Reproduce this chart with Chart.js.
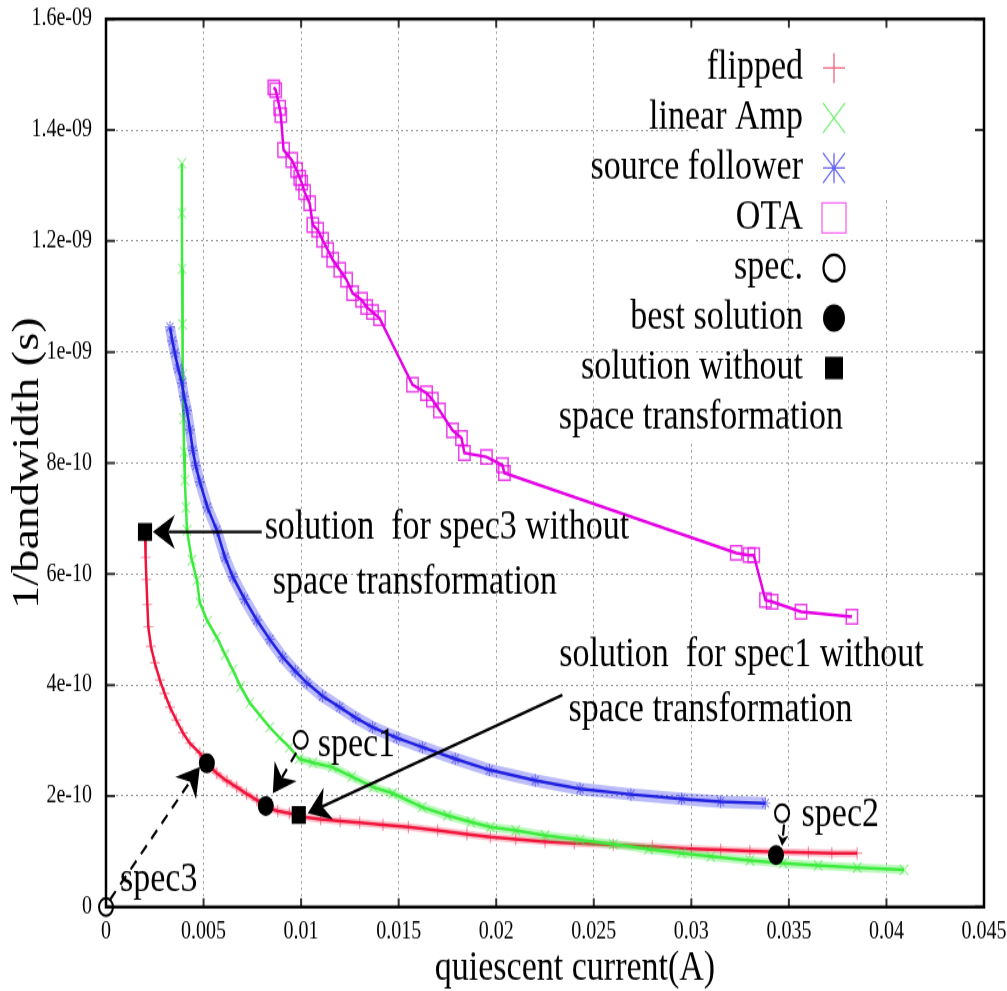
<!DOCTYPE html>
<html>
<head>
<meta charset="utf-8">
<script src="https://cdn.jsdelivr.net/npm/chart.js@4.4.1/dist/chart.umd.min.js"></script>
<style>
  html, body { margin: 0; padding: 0; background: #fff; overflow: hidden; }
</style>
</head>
<body>
<!-- the original figure is squeezed: draw at 1007x793 and let css stretch it to 991 -->
<canvas id="myChart" width="1007" height="793" style="display:block;width:1007px;height:991px"></canvas>
<script>
const xTicks = [0, 0.005, 0.01, 0.015, 0.02, 0.025, 0.03, 0.035, 0.04, 0.045];
const xTickLabels = ['0', '0.005', '0.01', '0.015', '0.02', '0.025', '0.03', '0.035', '0.04', '0.045'];
const yTicks = [0, 2e-10, 4e-10, 6e-10, 8e-10, 1e-9, 1.2e-9, 1.4e-9, 1.6e-9];
const yTickLabels = ['0', '2e-10', '4e-10', '6e-10', '8e-10', '1e-09', '1.2e-09', '1.4e-09', '1.6e-09'];

// [quiescent current (A), 1/bandwidth (s)]
const flipped = [
  [0.00200, 6.74e-10], [0.00203, 6.30e-10], [0.00207, 5.90e-10], [0.00212, 5.45e-10],
  [0.00217, 5.05e-10], [0.00230, 4.70e-10], [0.00250, 4.40e-10], [0.00276, 4.09e-10],
  [0.00300, 3.85e-10], [0.00328, 3.60e-10], [0.00360, 3.37e-10], [0.00394, 3.14e-10],
  [0.00430, 2.95e-10], [0.00481, 2.77e-10], [0.00517, 2.59e-10], [0.00568, 2.41e-10],
  [0.00620, 2.27e-10], [0.00670, 2.16e-10], [0.00720, 2.04e-10], [0.00773, 1.93e-10],
  [0.00824, 1.80e-10], [0.00880, 1.73e-10], [0.00940, 1.69e-10], [0.01010, 1.62e-10],
  [0.01100, 1.58e-10], [0.01200, 1.55e-10], [0.01300, 1.52e-10], [0.01420, 1.48e-10],
  [0.01550, 1.44e-10], [0.01700, 1.38e-10], [0.01850, 1.31e-10], [0.01970, 1.26e-10],
  [0.02100, 1.22e-10], [0.02250, 1.18e-10], [0.02400, 1.15e-10], [0.02600, 1.12e-10],
  [0.02800, 1.09e-10], [0.03000, 1.05e-10], [0.03150, 1.03e-10], [0.03300, 1.01e-10],
  [0.03450, 0.99e-10], [0.03600, 0.98e-10], [0.03720, 0.97e-10], [0.03850, 0.97e-10]
];
const linearAmp = [
  [0.00389, 1.340e-9], [0.00389, 1.250e-9], [0.00390, 1.150e-9], [0.00392, 1.050e-9],
  [0.00394, 9.60e-10], [0.00397, 8.80e-10], [0.00400, 8.20e-10], [0.00404, 7.69e-10],
  [0.00410, 7.20e-10], [0.00415, 6.79e-10], [0.00440, 6.25e-10], [0.00466, 5.89e-10],
  [0.00481, 5.48e-10], [0.00520, 5.15e-10], [0.00568, 4.86e-10], [0.00610, 4.55e-10],
  [0.00650, 4.27e-10], [0.00690, 3.97e-10], [0.00737, 3.68e-10], [0.00790, 3.45e-10],
  [0.00839, 3.24e-10], [0.00890, 3.05e-10], [0.00940, 2.88e-10], [0.00990, 2.67e-10],
  [0.01060, 2.60e-10], [0.01160, 2.52e-10], [0.01260, 2.35e-10], [0.01370, 2.16e-10],
  [0.01469, 2.05e-10], [0.01620, 1.80e-10], [0.01750, 1.65e-10], [0.01870, 1.53e-10],
  [0.01970, 1.44e-10], [0.02100, 1.38e-10], [0.02250, 1.29e-10], [0.02430, 1.21e-10],
  [0.02600, 1.13e-10], [0.02780, 1.04e-10], [0.02950, 0.97e-10], [0.03100, 0.91e-10],
  [0.03300, 0.84e-10], [0.03470, 0.79e-10], [0.03650, 0.75e-10], [0.03850, 0.71e-10],
  [0.04090, 0.67e-10]
];
const sourceFollower = [
  [0.00328, 1.045e-9], [0.00340, 1.020e-9], [0.00353, 9.98e-10], [0.00370, 9.70e-10],
  [0.00389, 9.44e-10], [0.00400, 9.20e-10], [0.00415, 8.95e-10], [0.00430, 8.60e-10],
  [0.00445, 8.23e-10], [0.00460, 7.95e-10], [0.00481, 7.66e-10], [0.00520, 7.20e-10],
  [0.00568, 6.79e-10], [0.00610, 6.30e-10], [0.00650, 5.95e-10], [0.00710, 5.55e-10],
  [0.00773, 5.17e-10], [0.00840, 4.82e-10], [0.00906, 4.50e-10], [0.00970, 4.25e-10],
  [0.01029, 4.04e-10], [0.01110, 3.80e-10], [0.01198, 3.60e-10], [0.01280, 3.41e-10],
  [0.01366, 3.24e-10], [0.01490, 3.05e-10], [0.01622, 2.88e-10], [0.01790, 2.67e-10],
  [0.01965, 2.47e-10], [0.02200, 2.28e-10], [0.02430, 2.13e-10], [0.02690, 2.03e-10],
  [0.02950, 1.95e-10], [0.03150, 1.90e-10], [0.03380, 1.87e-10]
];
const ota = [
  [0.00860, 1.477e-9], [0.00870, 1.472e-9], [0.00890, 1.440e-9], [0.00896, 1.427e-9],
  [0.00910, 1.364e-9], [0.00952, 1.346e-9], [0.00977, 1.328e-9], [0.00993, 1.314e-9],
  [0.01003, 1.305e-9], [0.01018, 1.288e-9], [0.01044, 1.268e-9], [0.01060, 1.229e-9],
  [0.01085, 1.220e-9], [0.01110, 1.202e-9], [0.01136, 1.184e-9], [0.01162, 1.166e-9],
  [0.01198, 1.148e-9], [0.01233, 1.130e-9], [0.01264, 1.106e-9], [0.01310, 1.094e-9],
  [0.01336, 1.081e-9], [0.01366, 1.072e-9], [0.01402, 1.061e-9], [0.01571, 9.41e-10],
  [0.01643, 9.26e-10], [0.01673, 9.14e-10], [0.01709, 8.95e-10], [0.01776, 8.59e-10],
  [0.01822, 8.45e-10], [0.01837, 8.18e-10], [0.01950, 8.11e-10], [0.02032, 7.96e-10],
  [0.02042, 7.82e-10], [0.03230, 6.38e-10], [0.03296, 6.34e-10], [0.03320, 6.34e-10],
  [0.03380, 5.53e-10], [0.03414, 5.50e-10], [0.03562, 5.32e-10], [0.03823, 5.23e-10]
];
const specPoints = [[0, 0], [0.00998, 3.01e-10], [0.03465, 1.69e-10]];
const bestSolutions = [[0.00517, 2.59e-10], [0.00819, 1.82e-10], [0.03434, 0.937e-10]];
const noTransformSolutions = [[0.00200, 6.76e-10], [0.00988, 1.66e-10]];

const RED = '#f0143c', GREEN = '#3cec3c', BLUE = '#2020e0', MAGENTA = '#e400e4';
const FONT = '"Liberation Serif", "Times New Roman", serif';
const SQUEEZE = 991 / 793;

const pts = arr => arr.map(([x, y]) => ({x, y}));

// labels and arrows, anchored in data coordinates like gnuplot does
const notes = [
  {text: 'solution  for spec3 without', at: [0.00813, 6.83e-10]},
  {text: 'space transformation', at: [0.00855, 5.84e-10]},
  {text: 'solution  for spec1 without', at: [0.02323, 4.55e-10]},
  {text: 'space transformation', at: [0.02370, 3.56e-10]},
  {text: 'spec1', at: [0.01085, 2.92e-10]},
  {text: 'spec2', at: [0.03565, 1.66e-10]},
  {text: 'spec3', at: [0.00072, 0.49e-10]}
];
const arrows = [
  {from: [0.00798, 6.76e-10], to: [0.00240, 6.76e-10], dash: false, head: 22},
  {from: [0.02339, 3.82e-10], to: [0.01034, 1.69e-10], dash: false, head: 22},
  {from: [0.00020, 0.13e-10], to: [0.00481, 2.52e-10], dash: true, head: 22},
  {from: [0.00975, 2.78e-10], to: [0.00855, 2.05e-10], dash: true, head: 22},
  {from: [0.03475, 1.49e-10], to: [0.03465, 1.10e-10], dash: true, head: 9}
];
const legendRows = [
  {label: 'flipped', mark: 'plus', color: 'rgba(240,60,90,0.8)'},
  {label: 'linear Amp', mark: 'x', color: 'rgba(80,235,80,0.8)'},
  {label: 'source follower', mark: 'star', color: 'rgba(60,60,235,0.8)'},
  {label: 'OTA', mark: 'box', color: 'rgba(240,60,240,0.8)'},
  {label: 'spec.', mark: 'circle', color: '#000'},
  {label: 'best solution', mark: 'dot', color: '#000'},
  {label: 'solution without', mark: 'square', color: '#000'},
  {label: 'space transformation', mark: null, color: '#000'}
];

function arrowHead(ctx, tx, ty, ux, uy, len) {
  const half = len * 0.62, nx = -uy, ny = ux;
  ctx.beginPath();
  ctx.moveTo(tx, ty);
  ctx.lineTo(tx - ux * len + nx * half, ty - uy * len + ny * half);
  ctx.lineTo(tx - ux * len * 0.7, ty - uy * len * 0.7);
  ctx.lineTo(tx - ux * len - nx * half, ty - uy * len - ny * half);
  ctx.closePath();
  ctx.fill();
}

function drawMark(ctx, mark, x, y, color) {
  ctx.save();
  ctx.strokeStyle = color;
  ctx.fillStyle = color;
  ctx.lineWidth = 1.3;
  ctx.beginPath();
  if (mark === 'plus' || mark === 'star') {
    ctx.moveTo(x - 11, y); ctx.lineTo(x + 11, y);
    ctx.moveTo(x, y - 12); ctx.lineTo(x, y + 12);
  }
  if (mark === 'x' || mark === 'star') {
    ctx.moveTo(x - 11, y - 12); ctx.lineTo(x + 11, y + 12);
    ctx.moveTo(x + 11, y - 12); ctx.lineTo(x - 11, y + 12);
  }
  if (mark === 'box') ctx.rect(x - 12, y - 12, 24, 24);
  ctx.stroke();
  if (mark === 'circle') {
    ctx.lineWidth = 2.2;
    ctx.beginPath(); ctx.arc(x, y, 10.5, 0, Math.PI * 2); ctx.stroke();
  }
  if (mark === 'dot') {
    ctx.beginPath(); ctx.arc(x, y, 11, 0, Math.PI * 2); ctx.fill();
  }
  if (mark === 'square') ctx.fillRect(x - 9, y - 9, 18, 18);
  ctx.restore();
}

const decorations = {
  id: 'decorations',
  beforeDatasetsDraw(chart) {
    // gnuplot leaves the grid out behind part of the key
    const {ctx, chartArea: a, scales: {x}} = chart;
    const y0 = a.top + 2;
    ctx.save();
    ctx.fillStyle = '#fff';
    ctx.fillRect(700, y0, a.right - 702, 188 / SQUEEZE - y0);
    const strip = (v, bottom) => {
      const px = x.getPixelForValue(v);
      ctx.fillRect(px - 3, y0, 6, bottom / SQUEEZE - y0);
    };
    strip(0.03, 440);
    strip(0.035, 227);
    strip(0.04, 198);
    ctx.restore();
  },
  afterDraw(chart) {
    const {ctx, chartArea: a, scales: {x, y}} = chart;
    ctx.save();

    // inward tick marks on all four sides
    ctx.strokeStyle = '#333';
    ctx.lineWidth = 2;
    ctx.beginPath();
    yTicks.forEach(v => {
      const py = y.getPixelForValue(v);
      ctx.moveTo(a.left, py); ctx.lineTo(a.left + 9, py);
      ctx.moveTo(a.right, py); ctx.lineTo(a.right - 9, py);
    });
    xTicks.forEach(v => {
      const px = x.getPixelForValue(v);
      ctx.moveTo(px, a.bottom); ctx.lineTo(px, a.bottom - 7);
      ctx.moveTo(px, a.top); ctx.lineTo(px, a.top + 7);
    });
    ctx.stroke();

    // plot border
    ctx.strokeStyle = '#000';
    ctx.lineWidth = 2.5;
    ctx.strokeRect(a.left, a.top, a.right - a.left, a.bottom - a.top);

    // arrows
    ctx.fillStyle = '#000';
    ctx.strokeStyle = '#000';
    arrows.forEach(ar => {
      const x0 = x.getPixelForValue(ar.from[0]), y0 = y.getPixelForValue(ar.from[1]);
      const x1 = x.getPixelForValue(ar.to[0]), y1 = y.getPixelForValue(ar.to[1]);
      const d = Math.hypot(x1 - x0, y1 - y0), ux = (x1 - x0) / d, uy = (y1 - y0) / d;
      ctx.lineWidth = 2.2;
      ctx.setLineDash(ar.dash ? [9, 7] : []);
      ctx.beginPath();
      ctx.moveTo(x0, y0);
      ctx.lineTo(x1 - ux * ar.head * 0.7, y1 - uy * ar.head * 0.7);
      ctx.stroke();
      ctx.setLineDash([]);
      arrowHead(ctx, x1, y1, ux, uy, ar.head);
    });

    // text labels
    ctx.font = '34px ' + FONT;
    ctx.textBaseline = 'middle';
    ctx.textAlign = 'left';
    notes.forEach(n => {
      ctx.fillText(n.text, x.getPixelForValue(n.at[0]), y.getPixelForValue(n.at[1]));
    });

    // key, top right
    ctx.textAlign = 'right';
    legendRows.forEach((row, i) => {
      const ly = (68 + i * 50) / SQUEEZE;
      const tx = row.mark ? 803 : 843;
      ctx.fillStyle = '#000';
      ctx.fillText(row.label, tx, ly);
      if (row.mark) drawMark(ctx, row.mark, 834, ly, row.color);
    });

    // x axis title
    ctx.textAlign = 'center';
    ctx.fillStyle = '#000';
    ctx.fillText('quiescent current(A)', 575, 775);
    ctx.restore();
  }
};

const canvas = document.getElementById('myChart');
const myChart = new Chart(canvas.getContext('2d'), {
  type: 'scatter',
  data: {
    datasets: [
      {
        label: 'flipped band', data: pts(flipped.filter(p => p[0] > 0.0045)),
        showLine: true, order: 10,
        borderColor: 'rgba(245,60,90,0.3)', borderWidth: 6, pointRadius: 0
      },
      {
        label: 'flipped', data: pts(flipped), showLine: true, order: 9,
        borderColor: RED, borderWidth: 2.5,
        pointStyle: 'cross', pointRadius: 5, pointBorderWidth: 1.2,
        pointBorderColor: 'rgba(240,20,60,0.45)', pointBackgroundColor: 'transparent'
      },
      {
        label: 'linear Amp band', data: pts(linearAmp.filter(p => p[0] > 0.0098)),
        showLine: true, order: 8,
        borderColor: 'rgba(70,235,70,0.35)', borderWidth: 7, pointRadius: 0
      },
      {
        label: 'linear Amp', data: pts(linearAmp), showLine: true, order: 7,
        borderColor: GREEN, borderWidth: 2.5,
        pointStyle: 'crossRot', pointRadius: 6, pointBorderWidth: 1.2,
        pointBorderColor: 'rgba(60,230,60,0.5)', pointBackgroundColor: 'transparent'
      },
      {
        label: 'source follower band', data: pts(sourceFollower), showLine: true, order: 6,
        borderColor: 'rgba(60,60,240,0.35)', borderWidth: 10, pointRadius: 0
      },
      {
        label: 'source follower', data: pts(sourceFollower), showLine: true, order: 5,
        borderColor: BLUE, borderWidth: 2.5,
        pointStyle: 'star', pointRadius: 5, pointBorderWidth: 1.2,
        pointBorderColor: 'rgba(40,40,230,0.5)', pointBackgroundColor: 'transparent'
      },
      {
        label: 'OTA', data: pts(ota), showLine: true, order: 4,
        borderColor: MAGENTA, borderWidth: 2.5,
        pointStyle: 'rect', pointRadius: 8, pointBorderWidth: 1.5,
        pointBorderColor: 'rgba(228,0,228,0.75)', pointBackgroundColor: 'transparent'
      },
      {
        label: 'spec.', data: pts(specPoints), showLine: false, order: 3, clip: false,
        pointStyle: 'circle', pointRadius: 7, pointBorderWidth: 2,
        pointBorderColor: '#000', pointBackgroundColor: '#fff'
      },
      {
        label: 'best solution', data: pts(bestSolutions), showLine: false, order: 2,
        pointStyle: 'circle', pointRadius: 8, pointBorderWidth: 0,
        pointBackgroundColor: '#000'
      },
      {
        label: 'solution without space transformation', data: pts(noTransformSolutions),
        showLine: false, order: 1,
        pointStyle: 'rect', pointRadius: 10, pointBorderWidth: 0,
        pointBackgroundColor: '#000'
      }
    ]
  },
  options: {
    responsive: false,
    animation: false,
    devicePixelRatio: 1,
    events: [],
    layout: {padding: {top: 19 / SQUEEZE, right: 23, bottom: 0, left: 0}},
    scales: {
      x: {
        type: 'linear', min: 0, max: 0.045,
        afterBuildTicks: s => { s.ticks = xTicks.map(v => ({value: v})); },
        afterFit: s => {
          s.height = 793 - 907 / SQUEEZE;
          s.paddingLeft = 0; s.paddingRight = 0;
        },
        ticks: {
          callback: (v, i) => xTickLabels[i], padding: 8, color: '#000',
          maxRotation: 0, autoSkip: false,
          font: {family: FONT, size: 20}
        },
        grid: {color: '#999', lineWidth: 1, drawTicks: false},
        border: {display: false, dash: [2, 3]}
      },
      y: {
        type: 'linear', min: 0, max: 1.6e-9,
        afterBuildTicks: s => { s.ticks = yTicks.map(v => ({value: v})); },
        afterFit: s => {
          s.width = 106;
          s.paddingTop = 0; s.paddingBottom = 0;
        },
        ticks: {
          callback: (v, i) => yTickLabels[i], padding: 14, color: '#000',
          autoSkip: false, font: {family: FONT, size: 20}
        },
        grid: {color: '#999', lineWidth: 1, drawTicks: false},
        border: {display: false, dash: [2, 3]},
        title: {
          display: true, text: '1/bandwidth (s)', color: '#000',
          font: {family: FONT, size: 37, lineHeight: 1},
          padding: {top: 9.5, bottom: 0}
        }
      }
    },
    plugins: {
      legend: {display: false},
      tooltip: {enabled: false}
    }
  },
  plugins: [decorations]
});
// keep the stretched display size
canvas.style.width = '1007px';
canvas.style.height = '991px';
</script>
</body>
</html>
